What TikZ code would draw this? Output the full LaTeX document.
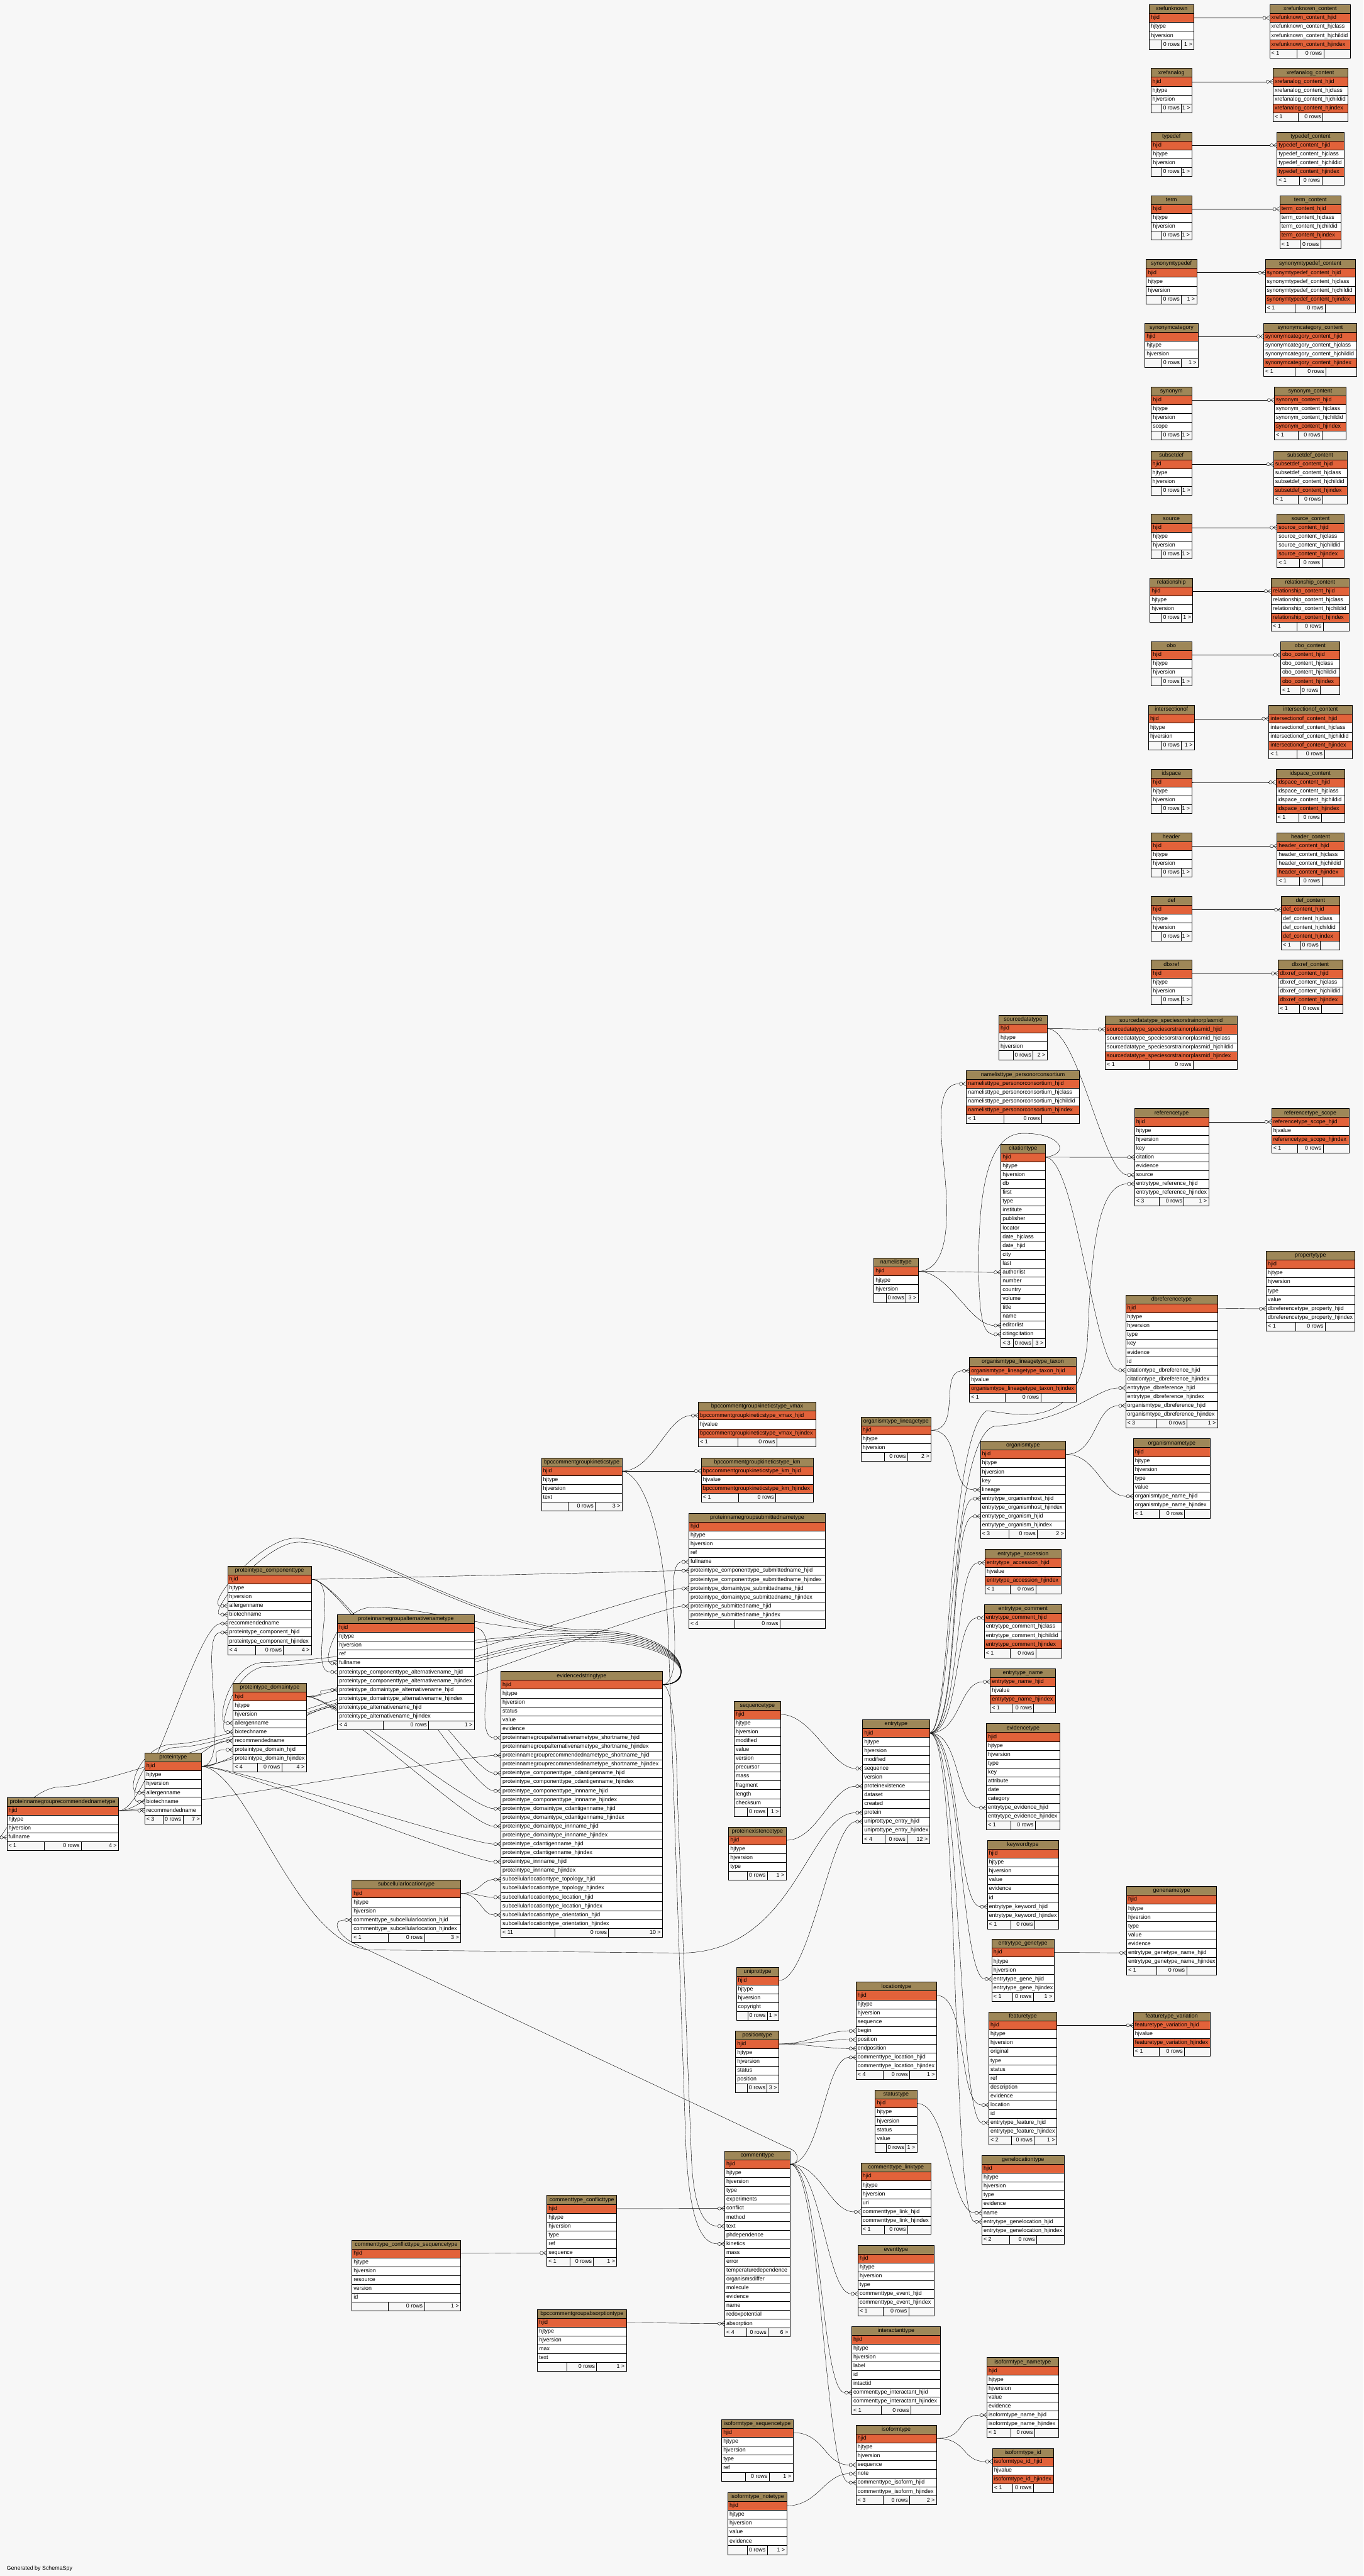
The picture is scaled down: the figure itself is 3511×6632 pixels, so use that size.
\documentclass[tikz,border=0pt]{standalone}
\usepackage{fontspec}
\setmainfont{Liberation Sans}
\usetikzlibrary{arrows.meta}
\definecolor{hdrc}{RGB}{158,135,88}
\definecolor{cp}{RGB}{226,98,58}
\colorlet{cn}{white}
\definecolor{bgc}{RGB}{247,247,247}
\pgfdeclarelayer{back}\pgfdeclarelayer{edges}\pgfsetlayers{back,edges,main}
\pgfdeclarearrow{
  name=Crow,
  setup code={
    \pgfarrowssettipend{0pt}
    \pgfarrowssetlineend{-8.7pt}
    \pgfarrowshullpoint{0pt}{3pt}
    \pgfarrowshullpoint{0pt}{-3pt}
    \pgfarrowshullpoint{-9pt}{0pt}
  },
  drawing code={
    \pgfsetdash{}{0pt}
    \pgfpathmoveto{\pgfqpoint{-4.5pt}{0pt}}
    \pgfpathlineto{\pgfqpoint{0pt}{3pt}}
    \pgfpathmoveto{\pgfqpoint{-4.5pt}{0pt}}
    \pgfpathlineto{\pgfqpoint{0pt}{-3pt}}
    \pgfpathmoveto{\pgfqpoint{-4.5pt}{0pt}}
    \pgfpathlineto{\pgfqpoint{0pt}{0pt}}
    \pgfusepathqstroke
    \pgfpathcircle{\pgfqpoint{-6.6pt}{0pt}}{2.1pt}
    \pgfusepathqstroke
  }
}
\newcommand\tfont{\fontsize{7.2pt}{8.6pt}\selectfont}
\tikzset{
  hdr/.style={draw=black,fill=hdrc,line width=0.5pt,inner sep=0pt,minimum height=11.4pt,font=\tfont,text height=5.2pt,text depth=1.4pt},
  rowbox/.style={draw=black,line width=0.5pt,inner sep=0pt,minimum height=11.4pt},
  txt/.style={inner sep=0pt,font=\tfont,text height=5.2pt,text depth=1.4pt},
  ftbox/.style={draw=black,fill=bgc,line width=0.5pt},
  fkl/.style={draw=black,line width=0.35pt,-Crow},
}
\catcode`\_=12
\newcommand\tbl[7]{%
  \pgfmathsetmacro\tL{#2}\pgfmathsetmacro\tT{#3}\pgfmathsetmacro\tW{#4}%
  \pgfmathsetmacro\tC{\tL+\tW/2}%
  \node[hdr,minimum width=\tW*0.5pt] (#1) at (\tC,\tT+11.4) {#1};
  \foreach \k/\f [count=\i] in {#5}{%
    \node[rowbox,fill=c\k,minimum width=\tW*0.5pt] (#1-\f) at (\tC,\tT+22.8*\i+11.4) {};
    \node[txt,anchor=west] at (\tL+4,\tT+22.8*\i+11.4) {\f};
    \xdef\tN{\i}}%
  \pgfmathsetmacro\fy{\tT+22.8*(\tN+1)}%
  \pgfmathsetmacro\fm{max(\tW/3,51)}%
  \pgfmathsetmacro\fs{(\tW-\fm)/2}%
  \draw[ftbox] (\tL,\fy) rectangle ++(\fs,22.8);
  \draw[ftbox] (\tL+\fs,\fy) rectangle ++(\fm,22.8);
  \draw[ftbox] (\tL+\fs+\fm,\fy) rectangle ++(\fs,22.8);
  \node[txt,anchor=west] at (\tL+4,\fy+11.4) {#6};
  \node[txt,anchor=east] at (\tL+\fs+\fm-4,\fy+11.4) {0 rows};
  \node[txt,anchor=east] at (\tL+\tW-4,\fy+11.4) {#7};
}
\newcommand\ctbl[4]{\tbl{#1}{#2}{#3}{#4}{p/#1_hjid,n/#1_hjclass,n/#1_hjchildid,p/#1_hjindex}{< 1}{}}
\newcommand\vtbl[4]{\tbl{#1}{#2}{#3}{#4}{p/#1_hjid,n/hjvalue,p/#1_hjindex}{< 1}{}}
\newcommand\pair[6]{%
  \tbl{#1}{#3}{#2}{#4}{p/hjid,n/hjtype,n/hjversion}{}{1 >}%
  \ctbl{#1_content}{#5}{#2}{#6}}
\newcommand\fk[3][80]{\draw[fkl] (#2.east) .. controls +(#1,0) and +(-#1,0) .. (#3.west);}
% evidencedstringtype -> table on its left: arc over the top, then over the target table, entering from its left
% #1 apex y, #2 via x, #3 via y, #4 entry offset, #5 target
\newcommand\fkvia[5]{\draw[fkl] (evidencedstringtype-hjid.east) .. controls +(90,0) and (1775,#1) .. (1500,#1) .. controls (1250,#1) and (#2+150,#3) .. (#2,#3) .. controls (#2-90,#3) and +(-#4,0) .. (#5.west);}
\begin{document}
\begin{tikzpicture}[x=0.5pt,y=-0.5pt]
\begin{pgfonlayer}{back}
\fill[bgc] (0,0) rectangle (3511,6632);
\end{pgfonlayer}
\useasboundingbox (0,0) rectangle (3511,6632);
% ---- top right pairs
\pair{xrefunknown}{12}{2959}{115}{3269}{208.5}
\pair{xrefanalog}{176}{2963}{106}{3277.6}{192}
\pair{typedef}{340}{2964}{104}{3287.8}{173}
\pair{term}{504}{2964}{104}{3295}{157.7}
\pair{synonymtypedef}{668}{2951}{130}{3257.5}{232}
\pair{synonymcategory}{832}{2948}{137}{3253.5}{240}
\tbl{synonym}{2964}{996}{104}{p/hjid,n/hjtype,n/hjversion,n/scope}{}{1 >}
\ctbl{synonym_content}{3281}{996}{184.5}
\pair{subsetdef}{1161}{2963}{106}{3279}{189}
\pair{source}{1324}{2964}{104}{3287.8}{173}
\pair{relationship}{1488}{2961}{110}{3273}{200.5}
\pair{obo}{1652}{2964}{104}{3297}{152.5}
\pair{intersectionof}{1816}{2957}{118}{3267}{214}
\pair{idspace}{1980}{2964}{104}{3285}{176.5}
\pair{header}{2144}{2964}{104}{3287.8}{173}
\pair{def}{2308}{2964}{104}{3299}{149.7}
\pair{dbxref}{2472}{2964}{104}{3291}{165.7}
% ---- reference area
\tbl{sourcedatatype}{2572}{2614}{124}{p/hjid,n/hjtype,n/hjversion}{}{2 >}
\ctbl{sourcedatatype_speciesorstrainorplasmid}{2845.5}{2616}{339.5}
\ctbl{namelisttype_personorconsortium}{2488}{2756}{291}
\tbl{referencetype}{2921}{2854}{191}{p/hjid,n/hjtype,n/hjversion,n/key,n/citation,n/evidence,n/source,n/entrytype_reference_hjid,n/entrytype_reference_hjindex}{< 3}{1 >}
\vtbl{referencetype_scope}{3274}{2854}{199}
\tbl{citationtype}{2577}{2945}{114}{p/hjid,n/hjtype,n/hjversion,n/db,n/first,n/type,n/institute,n/publisher,n/locator,n/date_hjclass,n/date_hjid,n/city,n/last,n/authorlist,n/number,n/country,n/volume,n/title,n/name,n/editorlist,n/citingcitation}{< 3}{3 >}
\tbl{namelisttype}{2250}{3239}{114}{p/hjid,n/hjtype,n/hjversion}{}{3 >}
\tbl{propertytype}{3260}{3221}{228}{p/hjid,n/hjtype,n/hjversion,n/type,n/value,n/dbreferencetype_property_hjid,n/dbreferencetype_property_hjindex}{< 1}{}
\tbl{dbreferencetype}{2898}{3334}{237}{p/hjid,n/hjtype,n/hjversion,n/type,n/key,n/evidence,n/id,n/citationtype_dbreference_hjid,n/citationtype_dbreference_hjindex,n/entrytype_dbreference_hjid,n/entrytype_dbreference_hjindex,n/organismtype_dbreference_hjid,n/organismtype_dbreference_hjindex}{< 3}{1 >}
\vtbl{organismtype_lineagetype_taxon}{2496}{3495}{275}
\tbl{organismtype_lineagetype}{2217}{3648}{180}{p/hjid,n/hjtype,n/hjversion}{}{2 >}
\tbl{organismtype}{2524}{3710}{220}{p/hjid,n/hjtype,n/hjversion,n/key,n/lineage,n/entrytype_organismhost_hjid,n/entrytype_organismhost_hjindex,n/entrytype_organism_hjid,n/entrytype_organism_hjindex}{< 3}{2 >}
\tbl{organismnametype}{2918}{3704}{198}{p/hjid,n/hjtype,n/hjversion,n/type,n/value,n/organismtype_name_hjid,n/organismtype_name_hjindex}{< 1}{}
\vtbl{entrytype_accession}{2536}{3989}{196}
\ctbl{entrytype_comment}{2534}{4131}{199.8}
\vtbl{entrytype_name}{2549.5}{4295.5}{168}
\tbl{entrytype}{2221}{4427.6}{172}{p/hjid,n/hjtype,n/hjversion,n/modified,n/sequence,n/version,n/proteinexistence,n/dataset,n/created,n/protein,n/uniprottype_entry_hjid,n/uniprottype_entry_hjindex}{< 4}{12 >}
\tbl{evidencetype}{2539.5}{4437.5}{189}{p/hjid,n/hjtype,n/hjversion,n/type,n/key,n/attribute,n/date,n/category,n/entrytype_evidence_hjid,n/entrytype_evidence_hjindex}{< 1}{}
\tbl{keywordtype}{2542}{4737.8}{183}{p/hjid,n/hjtype,n/hjversion,n/value,n/evidence,n/id,n/entrytype_keyword_hjid,n/entrytype_keyword_hjindex}{< 1}{}
\tbl{entrytype_genetype}{2553.7}{4992.5}{160}{p/hjid,n/hjtype,n/hjversion,n/entrytype_gene_hjid,n/entrytype_gene_hjindex}{< 1}{1 >}
\tbl{genenametype}{2900.7}{4856.5}{231.6}{p/hjid,n/hjtype,n/hjversion,n/type,n/value,n/evidence,n/entrytype_genetype_name_hjid,n/entrytype_genetype_name_hjindex}{< 1}{}
\tbl{locationtype}{2204}{5103}{207.5}{p/hjid,n/hjtype,n/hjversion,n/sequence,n/begin,n/position,n/endposition,n/commenttype_location_hjid,n/commenttype_location_hjindex}{< 4}{1 >}
\tbl{statustype}{2253.5}{5381}{107}{p/hjid,n/hjtype,n/hjversion,n/status,n/value}{}{1 >}
\tbl{featuretype}{2546}{5180}{175}{p/hjid,n/hjtype,n/hjversion,n/original,n/type,n/status,n/ref,n/description,n/evidence,n/location,n/id,n/entrytype_feature_hjid,n/entrytype_feature_hjindex}{< 2}{1 >}
\vtbl{featuretype_variation}{2918}{5180}{197.6}
\tbl{commenttype_linktype}{2217}{5569}{180}{p/hjid,n/hjtype,n/hjversion,n/uri,n/commenttype_link_hjid,n/commenttype_link_hjindex}{< 1}{}
\tbl{genelocationtype}{2528}{5549}{212}{p/hjid,n/hjtype,n/hjversion,n/type,n/evidence,n/name,n/entrytype_genelocation_hjid,n/entrytype_genelocation_hjindex}{< 2}{}
\tbl{eventtype}{2209}{5780}{196}{p/hjid,n/hjtype,n/hjversion,n/type,n/commenttype_event_hjid,n/commenttype_event_hjindex}{< 1}{}
\tbl{interactanttype}{2193}{5989}{228}{p/hjid,n/hjtype,n/hjversion,n/label,n/id,n/intactid,n/commenttype_interactant_hjid,n/commenttype_interactant_hjindex}{< 1}{}
\tbl{isoformtype}{2204}{6243.4}{207}{p/hjid,n/hjtype,n/hjversion,n/sequence,n/note,n/commenttype_isoform_hjid,n/commenttype_isoform_hjindex}{< 3}{2 >}
\tbl{isoformtype_sequencetype}{1858}{6228.5}{183.4}{p/hjid,n/hjtype,n/hjversion,n/type,n/ref}{}{1 >}
\tbl{isoformtype_notetype}{1874}{6417}{151.5}{p/hjid,n/hjtype,n/hjversion,n/value,n/evidence}{}{1 >}
\tbl{isoformtype_nametype}{2541}{6069.5}{184.7}{p/hjid,n/hjtype,n/hjversion,n/value,n/evidence,n/isoformtype_name_hjid,n/isoformtype_name_hjindex}{< 1}{}
\vtbl{isoformtype_id}{2555.4}{6303}{157.4}
\tbl{commenttype}{1866}{5537.5}{167.5}{p/hjid,n/hjtype,n/hjversion,n/type,n/experiments,n/conflict,n/method,n/text,n/phdependence,n/kinetics,n/mass,n/error,n/temperaturedependence,n/organismsdiffer,n/molecule,n/evidence,n/name,n/redoxpotential,n/absorption}{< 4}{6 >}
\tbl{commenttype_conflicttype}{1408}{5652}{180}{p/hjid,n/hjtype,n/hjversion,n/type,n/ref,n/sequence}{< 1}{1 >}
\tbl{commenttype_conflicttype_sequencetype}{906}{5767}{280}{p/hjid,n/hjtype,n/hjversion,n/resource,n/version,n/id}{}{1 >}
\tbl{bpccommentgroupabsorptiontype}{1383.7}{5945.5}{228.8}{p/hjid,n/hjtype,n/hjversion,n/max,n/text}{}{1 >}
\tbl{subcellularlocationtype}{906}{4840.5}{280}{p/hjid,n/hjtype,n/hjversion,n/commenttype_subcellularlocation_hjid,n/commenttype_subcellularlocation_hjindex}{< 1}{3 >}
\tbl{evidencedstringtype}{1289.5}{4303}{416}{p/hjid,n/hjtype,n/hjversion,n/status,n/value,n/evidence,n/proteinnamegroupalternativenametype_shortname_hjid,n/proteinnamegroupalternativenametype_shortname_hjindex,n/proteinnamegrouprecommendednametype_shortname_hjid,n/proteinnamegrouprecommendednametype_shortname_hjindex,n/proteintype_componenttype_cdantigenname_hjid,n/proteintype_componenttype_cdantigenname_hjindex,n/proteintype_componenttype_innname_hjid,n/proteintype_componenttype_innname_hjindex,n/proteintype_domaintype_cdantigenname_hjid,n/proteintype_domaintype_cdantigenname_hjindex,n/proteintype_domaintype_innname_hjid,n/proteintype_domaintype_innname_hjindex,n/proteintype_cdantigenname_hjid,n/proteintype_cdantigenname_hjindex,n/proteintype_innname_hjid,n/proteintype_innname_hjindex,n/subcellularlocationtype_topology_hjid,n/subcellularlocationtype_topology_hjindex,n/subcellularlocationtype_location_hjid,n/subcellularlocationtype_location_hjindex,n/subcellularlocationtype_orientation_hjid,n/subcellularlocationtype_orientation_hjindex}{< 11}{10 >}
\tbl{sequencetype}{1890}{4379.6}{120}{p/hjid,n/hjtype,n/hjversion,n/modified,n/value,n/version,n/precursor,n/mass,n/fragment,n/length,n/checksum}{}{1 >}
\tbl{proteinexistencetype}{1876}{4703.5}{148}{p/hjid,n/hjtype,n/hjversion,n/type}{}{1 >}
\tbl{uniprottype}{1896}{5064.7}{109}{p/hjid,n/hjtype,n/hjversion,n/copyright}{}{1 >}
\tbl{positiontype}{1894}{5228}{111}{p/hjid,n/hjtype,n/hjversion,n/status,n/position}{}{3 >}
\vtbl{bpccommentgroupkineticstype_vmax}{1798}{3610}{303}
\tbl{bpccommentgroupkineticstype}{1394}{3753}{207.6}{p/hjid,n/hjtype,n/hjversion,n/text}{}{3 >}
\vtbl{bpccommentgroupkineticstype_km}{1805.7}{3753}{287.6}
\tbl{proteinnamegroupsubmittednametype}{1773.5}{3895.7}{352}{p/hjid,n/hjtype,n/hjversion,n/ref,n/fullname,n/proteintype_componenttype_submittedname_hjid,n/proteintype_componenttype_submittedname_hjindex,n/proteintype_domaintype_submittedname_hjid,n/proteintype_domaintype_submittedname_hjindex,n/proteintype_submittedname_hjid,n/proteintype_submittedname_hjindex}{< 4}{}
\tbl{proteinnamegroupalternativenametype}{869}{4156.6}{352}{p/hjid,n/hjtype,n/hjversion,n/ref,n/fullname,n/proteintype_componenttype_alternativename_hjid,n/proteintype_componenttype_alternativename_hjindex,n/proteintype_domaintype_alternativename_hjid,n/proteintype_domaintype_alternativename_hjindex,n/proteintype_alternativename_hjid,n/proteintype_alternativename_hjindex}{< 4}{1 >}
\tbl{proteintype_componenttype}{586}{4031.6}{215.6}{p/hjid,n/hjtype,n/hjversion,n/allergenname,n/biotechname,n/recommendedname,n/proteintype_component_hjid,n/proteintype_component_hjindex}{< 4}{4 >}
\tbl{proteintype_domaintype}{600}{4333.7}{188.4}{p/hjid,n/hjtype,n/hjversion,n/allergenname,n/biotechname,n/recommendedname,n/proteintype_domain_hjid,n/proteintype_domain_hjindex}{< 4}{4 >}
\tbl{proteintype}{372.6}{4513}{146.4}{p/hjid,n/hjtype,n/hjversion,n/allergenname,n/biotechname,n/recommendedname}{< 3}{7 >}
\tbl{proteinnamegrouprecommendednametype}{17.6}{4627.6}{287.4}{p/hjid,n/hjtype,n/hjversion,n/fullname}{< 1}{4 >}
\node[txt,anchor=west] (generated) at (17,6612) {Generated by SchemaSpy};
% ---- connectors
\begin{pgfonlayer}{edges}
\foreach \n in {xrefunknown,xrefanalog,typedef,term,synonymtypedef,synonymcategory,synonym,subsetdef,source,relationship,obo,intersectionof,idspace,header,def,dbxref}{\fk{\n-hjid}{\n_content-\n_content_hjid}}
\fk{sourcedatatype-hjid}{sourcedatatype_speciesorstrainorplasmid-sourcedatatype_speciesorstrainorplasmid_hjid}
\fk{sourcedatatype-hjid}{referencetype-source}
\draw[fkl] (namelisttype-hjid.east) .. controls (2430,3270) and (2450,3180) .. (2430,3000) .. controls (2415,2860) and (2420,2790) .. (namelisttype_personorconsortium-namelisttype_personorconsortium_hjid.west);
\fk{namelisttype-hjid}{citationtype-authorlist}
\fk{namelisttype-hjid}{citationtype-editorlist}
\fk{citationtype-hjid}{referencetype-citation}
\draw[fkl] (citationtype-hjid.east) .. controls (2760,2970) and (2730,2915) .. (2630,2918) .. controls (2540,2922) and (2520,3080) .. (2520,3250) .. controls (2520,3390) and (2530,3435) .. (citationtype-citingcitation.west);
\fk{citationtype-hjid}{dbreferencetype-citationtype_dbreference_hjid}
\fk{referencetype-hjid}{referencetype_scope-referencetype_scope_hjid}
\fk{dbreferencetype-hjid}{propertytype-dbreferencetype_property_hjid}
\draw[fkl] (entrytype-hjid.east) .. controls (2450,4455) and (2440,3700) .. (2540,3632) .. controls (2620,3640) and (2780,3690) .. (2800,3450) .. controls (2810,3200) and (2830,3048) .. (referencetype-entrytype_reference_hjid.west);
\draw[fkl] (entrytype-hjid.east) .. controls (2455,4450) and (2445,3700) .. (2560,3672) .. controls (2760,3660) and (2820,3573) .. (dbreferencetype-entrytype_dbreference_hjid.west);
\fk{organismtype-hjid}{dbreferencetype-organismtype_dbreference_hjid}
\fk{organismtype-hjid}{organismnametype-organismtype_name_hjid}
\fk{organismtype_lineagetype-hjid}{organismtype_lineagetype_taxon-organismtype_lineagetype_taxon_hjid}
\fk{organismtype_lineagetype-hjid}{organismtype-lineage}
\fk{entrytype-hjid}{organismtype-entrytype_organismhost_hjid}
\fk{entrytype-hjid}{organismtype-entrytype_organism_hjid}
\fk{entrytype-hjid}{entrytype_accession-entrytype_accession_hjid}
\fk{entrytype-hjid}{entrytype_comment-entrytype_comment_hjid}
\fk{entrytype-hjid}{entrytype_name-entrytype_name_hjid}
\fk{entrytype-hjid}{evidencetype-entrytype_evidence_hjid}
\fk{entrytype-hjid}{keywordtype-entrytype_keyword_hjid}
\fk{entrytype-hjid}{entrytype_genetype-entrytype_gene_hjid}
\fk{entrytype-hjid}{featuretype-entrytype_feature_hjid}
\fk{entrytype-hjid}{genelocationtype-entrytype_genelocation_hjid}
\fk{entrytype_genetype-hjid}{genenametype-entrytype_genetype_name_hjid}
\fk{sequencetype-hjid}{entrytype-sequence}
\fk{proteinexistencetype-hjid}{entrytype-proteinexistence}
\draw[fkl] (proteintype-hjid.east) .. controls (640,4560) and (760,5000) .. (950,5020) -- (1750,5028) .. controls (2050,5030) and (2080,4667) .. (entrytype-protein.west);
\fk{uniprottype-hjid}{entrytype-uniprottype_entry_hjid}
\fk{locationtype-hjid}{featuretype-location}
\fk{featuretype-hjid}{featuretype_variation-featuretype_variation_hjid}
\fk{statustype-hjid}{genelocationtype-name}
\fk{positiontype-hjid}{locationtype-begin}
\fk{positiontype-hjid}{locationtype-position}
\fk{positiontype-hjid}{locationtype-endposition}
\fk{commenttype-hjid}{locationtype-commenttype_location_hjid}
\fk{commenttype-hjid}{commenttype_linktype-commenttype_link_hjid}
\fk{commenttype-hjid}{eventtype-commenttype_event_hjid}
\fk{commenttype-hjid}{interactanttype-commenttype_interactant_hjid}
\fk{commenttype-hjid}{isoformtype-commenttype_isoform_hjid}
\draw[fkl] (commenttype-hjid.east) .. controls (2060,5572) and (2060,5540) .. (2030,5530) -- (915,5005) .. controls (870,4984) and (850,4943) .. (subcellularlocationtype-commenttype_subcellularlocation_hjid.west);
\fk{commenttype_conflicttype-hjid}{commenttype-conflict}
\fk{commenttype_conflicttype_sequencetype-hjid}{commenttype_conflicttype-sequence}
\fk{bpccommentgroupabsorptiontype-hjid}{commenttype-absorption}
\draw[fkl] (bpccommentgroupkineticstype-hjid.east) .. controls (1660,3800) and (1715,3950) .. (1722,4250) -- (1765,5500) .. controls (1772,5700) and (1800,5777) .. (commenttype-kinetics.west);
\fk{bpccommentgroupkineticstype-hjid}{bpccommentgroupkineticstype_vmax-bpccommentgroupkineticstype_vmax_hjid}
\fk{bpccommentgroupkineticstype-hjid}{bpccommentgroupkineticstype_km-bpccommentgroupkineticstype_km_hjid}
\draw[fkl] (evidencedstringtype-hjid.east) .. controls (1730,4340) and (1742,4450) .. (1745,4650) -- (1780,5550) .. controls (1785,5680) and (1810,5731) .. (commenttype-text.west);
\draw[fkl] (evidencedstringtype-hjid.east) .. controls (1775,4330) and (1700,4021) .. (proteinnamegroupsubmittednametype-fullname.west);
\fkvia{4195}{760}{3960}{60}{proteintype_componenttype-allergenname}
\fkvia{4200}{770}{3970}{55}{proteintype_componenttype-biotechname}
\fkvia{4205}{680}{4280}{45}{proteintype_domaintype-allergenname}
\fkvia{4210}{690}{4290}{40}{proteintype_domaintype-biotechname}
\fkvia{4215}{450}{4490}{50}{proteintype-allergenname}
\fkvia{4220}{460}{4498}{45}{proteintype-biotechname}
\fkvia{4200}{960}{4138}{40}{proteinnamegroupalternativenametype-fullname}
\fkvia{4225}{160}{4600}{12}{proteinnamegrouprecommendednametype-fullname}
\fk{isoformtype-hjid}{isoformtype_nametype-isoformtype_name_hjid}
\fk{isoformtype-hjid}{isoformtype_id-isoformtype_id_hjid}
\fk{isoformtype_sequencetype-hjid}{isoformtype-sequence}
\fk{isoformtype_notetype-hjid}{isoformtype-note}
\fk{proteinnamegroupalternativenametype-hjid}{evidencedstringtype-proteinnamegroupalternativenametype_shortname_hjid}
\fk{proteinnamegrouprecommendednametype-hjid}{evidencedstringtype-proteinnamegrouprecommendednametype_shortname_hjid}
\fk{proteinnamegrouprecommendednametype-hjid}{proteintype_componenttype-recommendedname}
\fk{proteinnamegrouprecommendednametype-hjid}{proteintype_domaintype-recommendedname}
\fk{proteinnamegrouprecommendednametype-hjid}{proteintype-recommendedname}
\fk{proteintype_componenttype-hjid}{proteinnamegroupalternativenametype-proteintype_componenttype_alternativename_hjid}
\fk{proteintype_componenttype-hjid}{proteinnamegroupsubmittednametype-proteintype_componenttype_submittedname_hjid}
\fk{proteintype_componenttype-hjid}{evidencedstringtype-proteintype_componenttype_cdantigenname_hjid}
\fk{proteintype_componenttype-hjid}{evidencedstringtype-proteintype_componenttype_innname_hjid}
\fk{proteintype_domaintype-hjid}{proteinnamegroupalternativenametype-proteintype_domaintype_alternativename_hjid}
\fk{proteintype_domaintype-hjid}{proteinnamegroupsubmittednametype-proteintype_domaintype_submittedname_hjid}
\fk{proteintype_domaintype-hjid}{evidencedstringtype-proteintype_domaintype_cdantigenname_hjid}
\fk{proteintype_domaintype-hjid}{evidencedstringtype-proteintype_domaintype_innname_hjid}
\fk{proteintype-hjid}{proteintype_componenttype-proteintype_component_hjid}
\fk{proteintype-hjid}{proteintype_domaintype-proteintype_domain_hjid}
\fk{proteintype-hjid}{proteinnamegroupalternativenametype-proteintype_alternativename_hjid}
\fk{proteintype-hjid}{proteinnamegroupsubmittednametype-proteintype_submittedname_hjid}
\fk{proteintype-hjid}{evidencedstringtype-proteintype_cdantigenname_hjid}
\fk{proteintype-hjid}{evidencedstringtype-proteintype_innname_hjid}
\fk[50]{subcellularlocationtype-hjid}{evidencedstringtype-subcellularlocationtype_topology_hjid}
\fk[50]{subcellularlocationtype-hjid}{evidencedstringtype-subcellularlocationtype_location_hjid}
\fk[50]{subcellularlocationtype-hjid}{evidencedstringtype-subcellularlocationtype_orientation_hjid}
\end{pgfonlayer}
\end{tikzpicture}
\end{document}
